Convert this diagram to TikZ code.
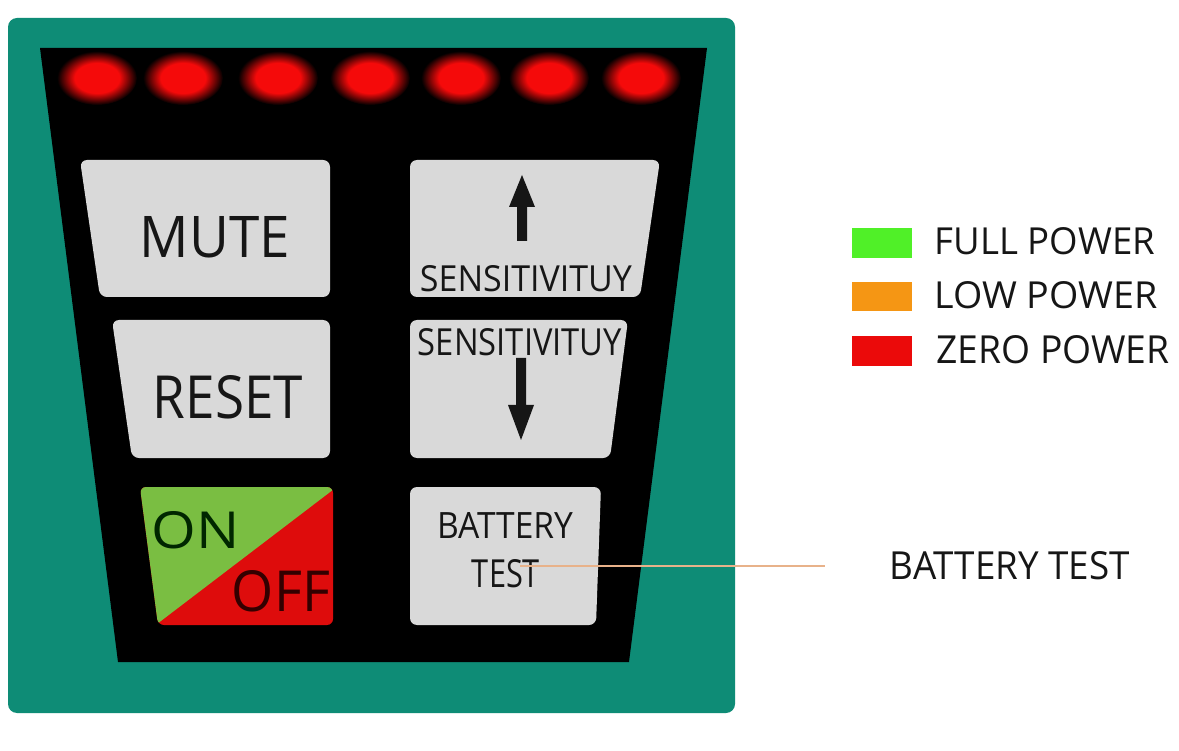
\documentclass[tikz,border=0pt]{standalone}
\usepackage{fontspec}
\setmainfont{Open Sans}
\usepackage{graphicx}
\definecolor{panelteal}{RGB}{14,140,118}
\definecolor{btngray}{RGB}{217,217,217}
\definecolor{ongreen}{RGB}{122,190,66}
\definecolor{offred}{RGB}{222,12,12}
\definecolor{ink}{RGB}{22,22,22}
\definecolor{ledred}{RGB}{245,10,10}
\definecolor{lgreen}{RGB}{80,240,40}
\definecolor{lorange}{RGB}{245,150,20}
\definecolor{lred}{RGB}{235,10,10}
\definecolor{leadercol}{RGB}{232,178,138}
\pgfdeclareradialshading{ledglow}{\pgfpoint{0bp}{0bp}}{color(0bp)=(ledred); color(14bp)=(ledred); color(25bp)=(black); color(50bp)=(black)}
\newcommand\fitto[3]{\resizebox{#1pt}{#2pt}{#3}}
\begin{document}
\begin{tikzpicture}[x=1pt,y=-1pt,
  lbl/.style={inner sep=0pt,text=ink},
  btnshape/.style={fill=btngray, rounded corners=7pt}]
\useasboundingbox (0,0) rectangle (1179,751);
\fill[white] (0,0) rectangle (1179,751);
% panel
\fill[panelteal, rounded corners=9pt] (8,18) rectangle (735,713);
\fill[black] (40,48) -- (707,48) -- (629,662) -- (118,662) -- cycle;
% LEDs
\foreach \x in {97,183,278,370,461,549,641}
  \shade[shading=ledglow] (\x,78) ellipse [x radius=40, y radius=27];
% left buttons
\fill[btnshape] (80,160) -- (330,160) -- (330,297) -- (100,297) -- cycle;
\node[lbl] (mute) at (215,237) {\fitto{150}{41}{MUTE}};
\fill[btnshape] (112,320) -- (330,320) -- (330,458) -- (132,458) -- cycle;
\node[lbl] (reset) at (228,397) {\fitto{150}{43}{RESET}};
\begin{scope}
  \clip[rounded corners=6pt] (140,487) -- (333,487) -- (333,625) -- (158,625) -- cycle;
  \fill[offred] (120,470) rectangle (350,640);
  \fill[ongreen] (120,470) -- (359,470) -- (136,640) -- (120,640) -- cycle;
\end{scope}
\node[lbl, text=black!85!green] (on) at (196,530) {\fitto{88}{37}{ON}};
\node[lbl, text=black!80!red] (off) at (281,591) {\fitto{98}{41}{OFF}};
% right buttons
\fill[btnshape] (410,160) -- (660,160) -- (640,297) -- (410,297) -- cycle;
\fill[ink] (522,175) -- (535,207) -- (527,207) -- (527,241) -- (517,241) -- (517,207) -- (509,207) -- cycle;
\node[lbl] (sensup) at (526,279) {\fitto{212}{26}{SENSITIVITUY}};
\fill[btnshape] (410,320) -- (628,320) -- (610,458) -- (410,458) -- cycle;
\node[lbl] (sensdown) at (520,342) {\fitto{204}{27}{SENSITIVITUY}};
\fill[ink] (521,440) -- (534,405) -- (526,405) -- (526,358) -- (516,358) -- (516,405) -- (508,405) -- cycle;
\fill[btnshape] (410,487) -- (601,487) -- (596,625) -- (410,625) -- cycle;
\node[lbl] (battery) at (505,525) {\fitto{136}{26}{BATTERY}};
\node[lbl] (test) at (506,574) {\fitto{68}{28}{TEST}};
% leader
\coordinate (leadA) at (520,566);
\coordinate (leadB) at (825,566);
\draw[leadercol, line width=1.6pt] (leadA) -- (leadB);
\node[lbl] (battlabel) at (1010,566) {\fitto{240}{28}{BATTERY TEST}};
% legend
\fill[lgreen] (852,228) rectangle (912,258);
\node[lbl] (full) at (1045,241) {\fitto{220}{27}{FULL POWER}};
\fill[lorange] (852,282) rectangle (912,311);
\node[lbl] (low) at (1046,295) {\fitto{223}{27}{LOW POWER}};
\fill[lred] (852,336) rectangle (912,366);
\node[lbl] (zero) at (1053,350) {\fitto{233}{28}{ZERO POWER}};
\end{tikzpicture}
\end{document}
